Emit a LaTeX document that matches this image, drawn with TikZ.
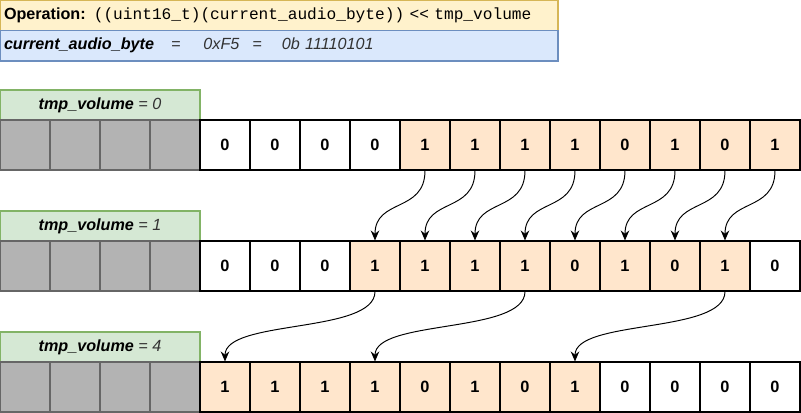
\documentclass[tikz,border=0pt]{standalone}
\usepackage{fontspec}
\setmainfont{Liberation Sans}
\setmonofont{Liberation Mono}
\usetikzlibrary{arrows.meta}
\definecolor{opfill}{HTML}{FFF2CC}
\definecolor{opline}{HTML}{D6B656}
\definecolor{valfill}{HTML}{DAE8FC}
\definecolor{valline}{HTML}{6C8EBF}
\definecolor{volfill}{HTML}{D5E8D4}
\definecolor{volline}{HTML}{82B366}
\definecolor{bytefill}{HTML}{FFE6CC}
\definecolor{padfill}{HTML}{B3B3B3}
\definecolor{padline}{HTML}{666666}
\definecolor{txtgrey}{HTML}{333333}
\begin{document}
\begin{tikzpicture}[line width=0.6pt, font=\fontsize{9.2}{11}\selectfont,
   padcell/.style={draw=padline, fill=padfill, minimum size=1cm, inner sep=0pt},
   emptycell/.style={draw, fill=white, minimum size=1cm, inner sep=0pt, font=\fontsize{9.3}{11}\selectfont\bfseries},
   bytecell/.style={emptycell, fill=bytefill},
   volbox/.style={draw=volline, fill=volfill, minimum width=4cm, minimum height=0.6cm, inner sep=0pt},
   infobox/.style={text width=11cm, minimum height=0.61cm, inner xsep=0.08cm, inner ysep=0pt, align=left},
   movearrow/.style={-{Stealth[length=2mm,width=1.7mm]}, line width=0.55pt}]
   \useasboundingbox (0,0) rectangle (16.02,-8.26);
   \node (op) at (5.58,-0.305) [infobox, draw=opline, fill=opfill] {\textbf{Operation:} \texttt{((uint16\_t)(current\_audio\_byte)) << tmp\_volume}};
   \node (val) at (5.58,-0.915) [infobox, draw=valline, fill=valfill] {{\bfseries\itshape current\_audio\_byte}\hspace{0.34cm}{\itshape\color{txtgrey}=\hspace{0.46cm}0xF5\hspace{0.26cm}=\hspace{0.4cm}0b 11110101}};
   % tmp_volume = 0
   \node (la) at (2,-2.1) [volbox] {{\bfseries\itshape tmp\_volume} {\itshape\color{txtgrey}= 0}};
   \node (a0) at (0.5,-2.9) [padcell] {}; \node (a1) at (1.5,-2.9) [padcell] {}; \node (a2) at (2.5,-2.9) [padcell] {}; \node (a3) at (3.5,-2.9) [padcell] {};
   \node (a4) at (4.5,-2.9) [emptycell] {0}; \node (a5) at (5.5,-2.9) [emptycell] {0}; \node (a6) at (6.5,-2.9) [emptycell] {0}; \node (a7) at (7.5,-2.9) [emptycell] {0};
   \node (a8) at (8.5,-2.9) [bytecell] {1}; \node (a9) at (9.5,-2.9) [bytecell] {1}; \node (a10) at (10.5,-2.9) [bytecell] {1}; \node (a11) at (11.5,-2.9) [bytecell] {1};
   \node (a12) at (12.5,-2.9) [bytecell] {0}; \node (a13) at (13.5,-2.9) [bytecell] {1}; \node (a14) at (14.5,-2.9) [bytecell] {0}; \node (a15) at (15.5,-2.9) [bytecell] {1};
   % tmp_volume = 1
   \node (lb) at (2,-4.52) [volbox] {{\bfseries\itshape tmp\_volume} {\itshape\color{txtgrey}= 1}};
   \node (b0) at (0.5,-5.32) [padcell] {}; \node (b1) at (1.5,-5.32) [padcell] {}; \node (b2) at (2.5,-5.32) [padcell] {}; \node (b3) at (3.5,-5.32) [padcell] {};
   \node (b4) at (4.5,-5.32) [emptycell] {0}; \node (b5) at (5.5,-5.32) [emptycell] {0}; \node (b6) at (6.5,-5.32) [emptycell] {0};
   \node (b7) at (7.5,-5.32) [bytecell] {1}; \node (b8) at (8.5,-5.32) [bytecell] {1}; \node (b9) at (9.5,-5.32) [bytecell] {1}; \node (b10) at (10.5,-5.32) [bytecell] {1};
   \node (b11) at (11.5,-5.32) [bytecell] {0}; \node (b12) at (12.5,-5.32) [bytecell] {1}; \node (b13) at (13.5,-5.32) [bytecell] {0}; \node (b14) at (14.5,-5.32) [bytecell] {1};
   \node (b15) at (15.5,-5.32) [emptycell] {0};
   % tmp_volume = 4
   \node (lc) at (2,-6.94) [volbox] {{\bfseries\itshape tmp\_volume} {\itshape\color{txtgrey}= 4}};
   \node (c0) at (0.5,-7.74) [padcell] {}; \node (c1) at (1.5,-7.74) [padcell] {}; \node (c2) at (2.5,-7.74) [padcell] {}; \node (c3) at (3.5,-7.74) [padcell] {};
   \node (c4) at (4.5,-7.74) [bytecell] {1}; \node (c5) at (5.5,-7.74) [bytecell] {1}; \node (c6) at (6.5,-7.74) [bytecell] {1}; \node (c7) at (7.5,-7.74) [bytecell] {1};
   \node (c8) at (8.5,-7.74) [bytecell] {0}; \node (c9) at (9.5,-7.74) [bytecell] {1}; \node (c10) at (10.5,-7.74) [bytecell] {0}; \node (c11) at (11.5,-7.74) [bytecell] {1};
   \node (c12) at (12.5,-7.74) [emptycell] {0}; \node (c13) at (13.5,-7.74) [emptycell] {0}; \node (c14) at (14.5,-7.74) [emptycell] {0}; \node (c15) at (15.5,-7.74) [emptycell] {0};
   % shift by one
   \draw [movearrow] (a8.south) .. controls +(0,-0.85) and +(0,0.85) .. (b7.north);
   \draw [movearrow] (a9.south) .. controls +(0,-0.85) and +(0,0.85) .. (b8.north);
   \draw [movearrow] (a10.south) .. controls +(0,-0.85) and +(0,0.85) .. (b9.north);
   \draw [movearrow] (a11.south) .. controls +(0,-0.85) and +(0,0.85) .. (b10.north);
   \draw [movearrow] (a12.south) .. controls +(0,-0.85) and +(0,0.85) .. (b11.north);
   \draw [movearrow] (a13.south) .. controls +(0,-0.85) and +(0,0.85) .. (b12.north);
   \draw [movearrow] (a14.south) .. controls +(0,-0.85) and +(0,0.85) .. (b13.north);
   \draw [movearrow] (a15.south) .. controls +(0,-0.85) and +(0,0.85) .. (b14.north);
   % shift by three more
   \draw [movearrow] (b7.south) .. controls +(0,-0.85) and +(0,0.85) .. (c4.north);
   \draw [movearrow] (b10.south) .. controls +(0,-0.85) and +(0,0.85) .. (c7.north);
   \draw [movearrow] (b14.south) .. controls +(0,-0.85) and +(0,0.85) .. (c11.north);
\end{tikzpicture}
\end{document}
